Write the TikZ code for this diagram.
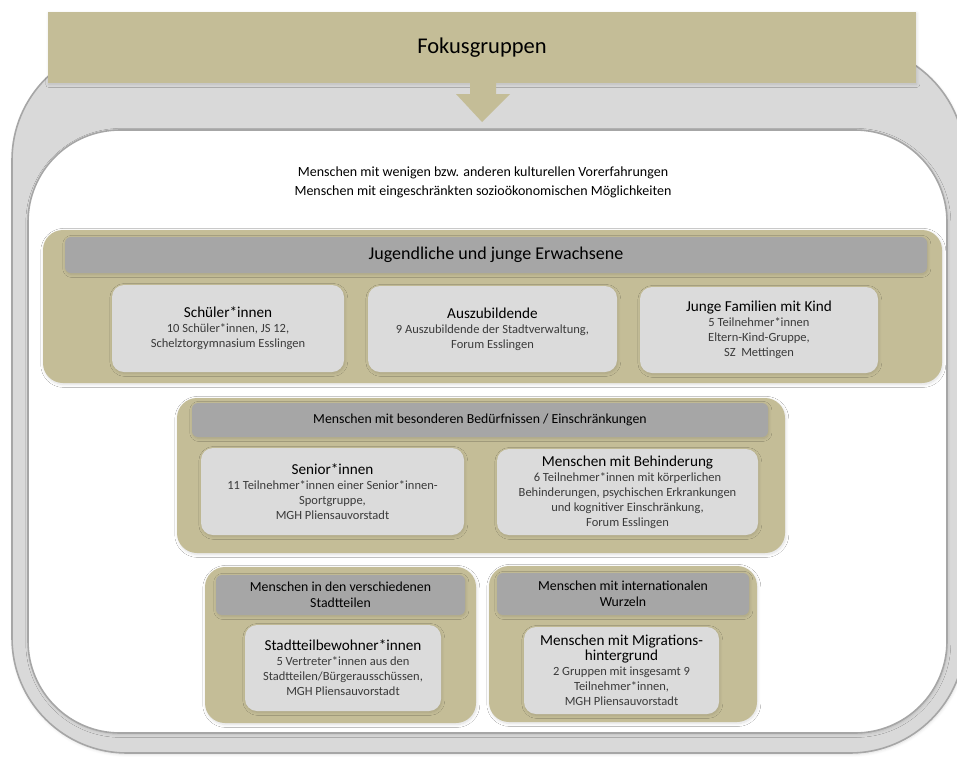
\documentclass[tikz,border=0pt]{standalone}
\usepackage{fontspec}
\setmainfont{Carlito}
\usetikzlibrary{shadows.blur}

\definecolor{tan}{HTML}{C4BD97}
\definecolor{framegray}{HTML}{D9D9D9}
\definecolor{linegray}{HTML}{A6A6A6}
\definecolor{headgray}{HTML}{A6A6A6}
\definecolor{cardgray}{HTML}{DBDBDB}
\definecolor{detailtext}{HTML}{3A3A3A}

\newcommand{\cardtitle}{\fontsize{15.2}{15}\selectfont\color{black}}
\newcommand{\carddetail}{\fontsize{12.5}{15}\selectfont\color{detailtext}}

\tikzset{
  softshadow/.style={blur shadow={shadow xshift=0.8pt, shadow yshift=-1.4pt,
      shadow blur radius=3pt, shadow blur steps=8, shadow opacity=13}},
  outerframe/.style={fill=framegray, draw=linegray, line width=1.6pt,
      rounded corners=115pt, inner sep=0pt, softshadow},
  banner/.style={fill=tan, draw=none, inner sep=0pt, softshadow,
      font=\fontsize{22.5}{26}\selectfont},
  innerframe/.style={fill=white, draw=linegray, line width=1.6pt,
      rounded corners=92pt, inner sep=0pt, softshadow},
  group/.style={fill=tan, draw=none, rounded corners=20pt, inner sep=0pt, softshadow},
  header/.style={fill=headgray, draw=none, rounded corners=6pt, inner sep=0pt,
      align=center, softshadow},
  card/.style={fill=cardgray, draw=none, rounded corners=12pt, inner sep=0pt,
      align=center, softshadow, font=\fontsize{12.5}{15}\selectfont},
  plaintext/.style={inner sep=0pt, align=center},
}

\begin{document}
\begin{tikzpicture}[x=1pt, y=-1pt]
  \useasboundingbox (0,0) rectangle (957,758);
  \clip (0,0) rectangle (957,758);

  % outer grey frame, title banner and arrow
  \node[outerframe, minimum width=953pt, minimum height=708pt] (outer) at (488.5,399) {};
  \node[banner, minimum width=868pt, minimum height=71pt] (title) at (482,47.5) {Fokusgruppen};
  \fill[tan] (470,83) -- (496,83) -- (496,94) -- (510,94) -- (482,122) -- (456,94) -- (470,94) -- cycle;

  % inner white area
  \node[innerframe, minimum width=919pt, minimum height=603pt] (inner) at (487.5,431.5) {};
  \node[plaintext, font=\fontsize{14}{19}\selectfont] (intro) at (483,182.5)
    {Menschen mit wenigen bzw. anderen kulturellen Vorerfahrungen\\
     Menschen mit eingeschränkten sozioökonomischen Möglichkeiten};

  % group 1
  \node[group, minimum width=899pt, minimum height=153pt] (g1) at (492.5,306.5) {};
  \node[header, minimum width=862pt, minimum height=36pt, font=\fontsize{18}{21}\selectfont]
    (g1h) at (496,255) {Jugendliche und junge Erwachsene};
  \node[card, minimum width=232pt, minimum height=87pt] (schueler) at (228,328.5)
    {\cardtitle Schüler*innen\\[0pt]
     \carddetail 10 Schüler*innen, JS 12,\\ \carddetail Schelztorgymnasium Esslingen};
  \node[card, minimum width=249pt, minimum height=86pt] (azubi) at (492.5,329)
    {\cardtitle Auszubildende\\[0pt]
     \carddetail 9 Auszubildende der Stadtverwaltung,\\ \carddetail Forum Esslingen};
  \node[card, minimum width=238pt, minimum height=86pt] (familien) at (759,330)
    {\cardtitle Junge Familien mit Kind\\[0pt]
     \carddetail 5 Teilnehmer*innen\\ \carddetail Eltern-Kind-Gruppe,\\ \carddetail SZ~ Mettingen};

  % group 2
  \node[group, minimum width=608pt, minimum height=155pt] (g2) at (481,475.5) {};
  \node[header, minimum width=576pt, minimum height=34pt, font=\fontsize{13.8}{16}\selectfont]
    (g2h) at (480,420) {Menschen mit besonderen Bedürfnissen / Einschränkungen};
  \node[card, minimum width=263pt, minimum height=87pt] (senior) at (332.5,491.5)
    {\cardtitle Senior*innen\\[0pt]
     \carddetail 11 Teilnehmer*innen einer Senior*innen-\\ \carddetail Sportgruppe,\\
     \carddetail MGH Pliensauvorstadt};
  \node[card, minimum width=261pt, minimum height=86pt] (behinderung) at (627.5,492)
    {\cardtitle Menschen mit Behinderung\\[0pt]
     \carddetail 6 Teilnehmer*innen mit körperlichen\\
     \carddetail Behinderungen, psychischen Erkrankungen\\
     \carddetail und kognitiver Einschränkung,\\ \carddetail Forum Esslingen};

  % group 3
  \node[group, minimum width=271pt, minimum height=156pt] (g3) at (340.5,645) {};
  \node[header, minimum width=249pt, minimum height=40pt, font=\fontsize{13.8}{16}\selectfont]
    (g3h) at (340.5,595) {Menschen in den verschiedenen\\ Stadtteilen};
  \node[card, minimum width=196pt, minimum height=86pt] (stadtteil) at (343,668)
    {\cardtitle Stadtteilbewohner*innen\\[0pt]
     \carddetail 5 Vertreter*innen aus den\\ \carddetail Stadtteilen/Bürgerausschüssen,\\
     \carddetail MGH Pliensauvorstadt};

  % group 4
  \node[group, minimum width=268pt, minimum height=156pt] (g4) at (623,644) {};
  \node[header, minimum width=252pt, minimum height=42pt, font=\fontsize{13.8}{16}\selectfont]
    (g4h) at (623,594) {Menschen mit internationalen\\ Wurzeln};
  \node[card, minimum width=195pt, minimum height=87pt] (migration) at (621.5,670.5)
    {\cardtitle Menschen mit Migrations-\\[0pt] \cardtitle hintergrund\\[0pt]
     \carddetail 2 Gruppen mit insgesamt 9\\ \carddetail Teilnehmer*innen,\\
     \carddetail MGH Pliensauvorstadt};
\end{tikzpicture}
\end{document}
